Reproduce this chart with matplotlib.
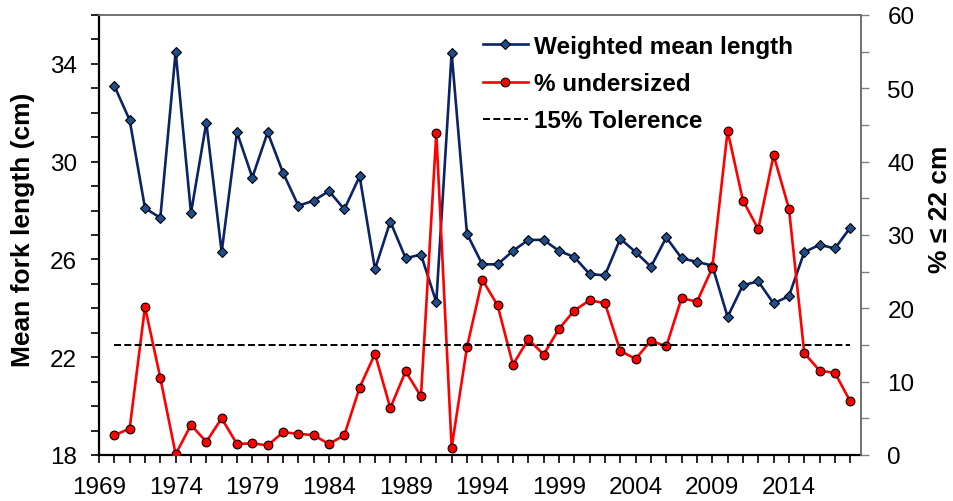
import matplotlib
matplotlib.use("Agg")
import matplotlib.pyplot as plt
from matplotlib.ticker import FixedLocator, MultipleLocator

plt.rcParams['font.family'] = ['Liberation Sans', 'DejaVu Sans']

years = list(range(1970, 2019))
mean_length = [33.1, 31.7, 28.1, 27.7, 34.5, 27.9, 31.6, 26.3, 31.2, 29.35,
               31.2, 29.55, 28.2, 28.4, 28.8, 28.05, 29.4, 25.6, 27.55, 26.05,
               26.2, 24.25, 34.45, 27.05, 25.8, 25.8, 26.35, 26.8, 26.8, 26.35,
               26.1, 25.4, 25.35, 26.85, 26.3, 25.7, 26.9, 26.05, 25.9, 25.75,
               23.65, 24.95, 25.1, 24.2, 24.5, 26.3, 26.6, 26.45, 27.3]
pct_undersized = [2.7, 3.6, 20.2, 10.5, 0.1, 4.1, 1.8, 5.0, 1.5, 1.6,
                  1.3, 3.1, 2.9, 2.7, 1.5, 2.7, 9.2, 13.8, 6.4, 11.4,
                  8.0, 43.9, 1.0, 14.7, 23.9, 20.4, 12.3, 15.8, 13.7, 17.2,
                  19.7, 21.1, 20.7, 14.2, 13.1, 15.6, 14.8, 21.4, 20.9, 25.5,
                  44.2, 34.7, 30.8, 40.9, 33.6, 13.9, 11.5, 11.2, 7.3]
tolerance = 15
x_tick_labels = [1969, 1974, 1979, 1984, 1989, 1994, 1999, 2004, 2009, 2014]
left_ticks = [18, 22, 26, 30, 34]
right_ticks = [0, 10, 20, 30, 40, 50, 60]

fig = plt.figure(figsize=(9.54, 5.02), dpi=100)
ax = fig.add_axes([99/954, 46/502, (861-99)/954, (456-16)/502])
ax2 = ax.twinx()

l1, = ax.plot(years, mean_length, color='#0B2466', lw=1.9, marker='D',
              markersize=5.2, markerfacecolor='#1F4E8C', markeredgecolor='black',
              markeredgewidth=0.8, label='Weighted mean length')
l2, = ax2.plot(years, pct_undersized, color='#FF0000', lw=1.9, marker='o',
               markersize=6.3, markerfacecolor='#FF0000', markeredgecolor='black',
               markeredgewidth=0.8, label='% undersized')
l3, = ax2.plot([years[0], years[-1]], [tolerance, tolerance], color='black',
               lw=1.4, linestyle=(0, (3.6, 1.7)), label='15% Tolerence')

ax.set_xlim(1969, 2018.7)
ax.set_ylim(18, 36)
ax2.set_ylim(0, 60)

ax.xaxis.set_major_locator(FixedLocator(x_tick_labels))
ax.xaxis.set_minor_locator(MultipleLocator(1))
ax.set_xticklabels([str(v) for v in x_tick_labels])
ax.yaxis.set_major_locator(FixedLocator(left_ticks))
ax.yaxis.set_minor_locator(MultipleLocator(1))
ax2.yaxis.set_major_locator(FixedLocator(right_ticks))
ax2.yaxis.set_minor_locator(MultipleLocator(5))

for a in (ax, ax2):
    a.tick_params(which='both', direction='out', labelsize=17.5)
ax.tick_params(axis='x', which='both', length=6, width=1.2, pad=9)
ax.tick_params(axis='y', which='both', length=6, width=1.2, pad=10)
ax2.tick_params(axis='y', which='both', length=6, width=1.0, color='#808080', pad=13)

ax.spines['left'].set_linewidth(1.6)
ax.spines['bottom'].set_linewidth(1.6)
for s in ('top', 'right'):
    ax.spines[s].set_color('#707070')
    ax.spines[s].set_linewidth(1.2)
    ax2.spines[s].set_color('#707070')
    ax2.spines[s].set_linewidth(1.2)
ax2.spines['left'].set_visible(False)
ax2.spines['bottom'].set_visible(False)

fig.text(0.024, 0.542, 'Mean fork length (cm)', rotation=90, fontsize=19,
         fontweight='bold', ha='center', va='center')
fig.text(0.985, 0.584, '% ≤ 22 cm', rotation=90, fontsize=19,
         fontweight='bold', ha='center', va='center')

fig.legend(handles=[l1, l2, l3], loc='upper left', bbox_to_anchor=(483/954, 1 - 36/502),
           frameon=False, prop={'weight': 'bold', 'size': 17.5},
           handlelength=1.85, handletextpad=0.25, labelspacing=0.58, borderpad=0,
           borderaxespad=0)

fig.savefig('out.png', dpi=100)
